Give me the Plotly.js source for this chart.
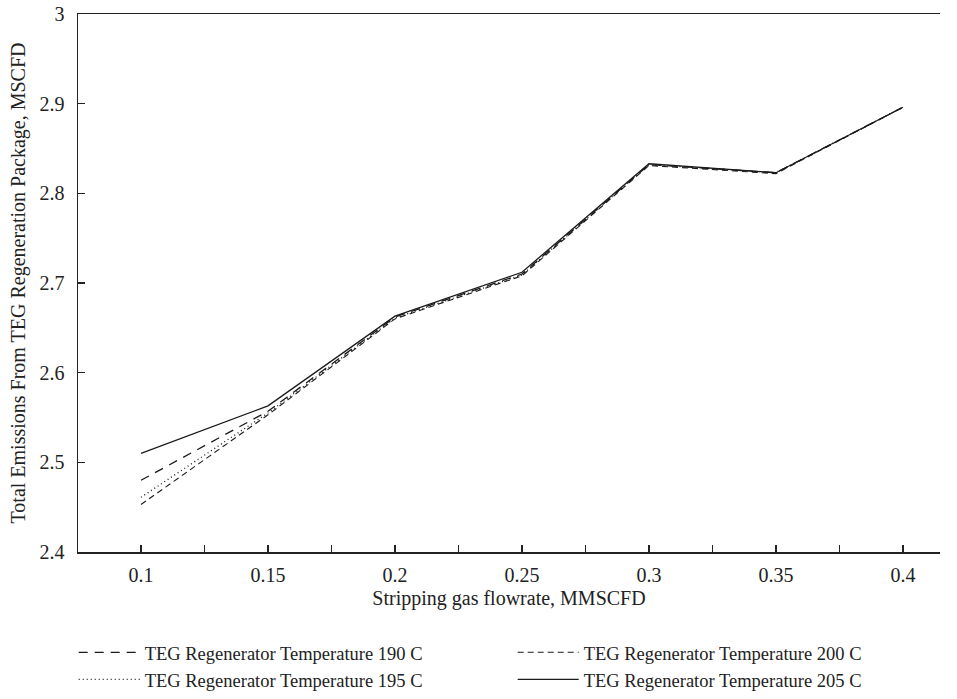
<!DOCTYPE html>
<html>
<head>
<meta charset="utf-8">
<script src="https://cdn.plot.ly/plotly-3.0.1.min.js"></script>
<style>html,body{margin:0;padding:0;background:#fff;}</style>
</head>
<body>
<div id="chart" style="width:957px;height:699px;"></div>
<script>
const flowrate = [0.1, 0.15, 0.2, 0.25, 0.3, 0.35, 0.4];
const temp190 = [2.480, 2.557, 2.662, 2.710, 2.832, 2.823, 2.896];
const temp195 = [2.461, 2.555, 2.661, 2.709, 2.832, 2.823, 2.896];
const temp200 = [2.453, 2.553, 2.660, 2.708, 2.831, 2.822, 2.896];
const temp205 = [2.510, 2.563, 2.663, 2.712, 2.833, 2.823, 2.896];
const names = ["TEG Regenerator Temperature 190 C","TEG Regenerator Temperature 195 C","TEG Regenerator Temperature 200 C","TEG Regenerator Temperature 205 C"];
const xTickText = ["0.1","0.15","0.2","0.25","0.3","0.35","0.4"];
const yTickVals = [2.4, 2.5, 2.6, 2.7, 2.8, 2.9, 3.0];
const yTickText = ["2.4","2.5","2.6","2.7","2.8","2.9","3"];

const col = "#1a1a1a";
const traces = [
  {x: flowrate, y: temp190, name: names[0], mode: "lines", line: {color: col, width: 1.3, dash: "9px,7px"}},
  {x: flowrate, y: temp200, name: names[2], mode: "lines", line: {color: col, width: 1.1, dash: "6px,4px"}},
  {x: flowrate, y: temp195, name: names[1], mode: "lines", line: {color: col, width: 1.3, dash: "1px,3px"}},
  {x: flowrate, y: temp205, name: names[3], mode: "lines", line: {color: col, width: 1.3}}
];

const font = {family: "Liberation Serif, DejaVu Serif, serif", size: 20, color: "#222"};
const legendFont = {family: "Liberation Serif, DejaVu Serif, serif", size: 18.5, color: "#222"};
const layout = {
  width: 957, height: 699,
  margin: {l: 78, r: 17, t: 14, b: 147, autoexpand: false},
  paper_bgcolor: "#fff", plot_bgcolor: "#fff",
  font: font,
  showlegend: true,
  legend: {orientation: "h", x: -0.005, xanchor: "left", y: -0.152, yanchor: "top",
           entrywidth: 363, entrywidthmode: "pixels", itemwidth: 61, font: legendFont, tracegroupgap: 0},
  xaxis: {
    range: [0.0752, 0.4146], showgrid: false, zeroline: false, automargin: false,
    showline: true, linecolor: "#222", linewidth: 1.5, mirror: true,
    ticks: "inside", ticklen: 6, tickwidth: 1.5, tickcolor: "#222",
    tickvals: flowrate, ticktext: xTickText, ticklabelstandoff: 4,
    minor: {dtick: 0.025, tick0: 0.075, ticks: "inside", ticklen: 7, tickwidth: 1.5, tickcolor: "#222"},
    title: {text: "Stripping gas flowrate, MMSCFD", font: font, standoff: 6}
  },
  yaxis: {
    range: [2.4, 3.0], showgrid: false, zeroline: false, automargin: false,
    showline: true, linecolor: "#222", linewidth: 1.5,
    ticks: "inside", ticklen: 7, tickwidth: 1.5, tickcolor: "#222",
    tickvals: yTickVals, ticktext: yTickText, ticklabelstandoff: 8,
    title: {text: "Total Emissions From TEG Regeneration Package, MSCFD", font: font, standoff: 8}
  }
};
Plotly.newPlot("chart", traces, layout, {displayModeBar: false, staticPlot: true});
</script>
</body>
</html>
